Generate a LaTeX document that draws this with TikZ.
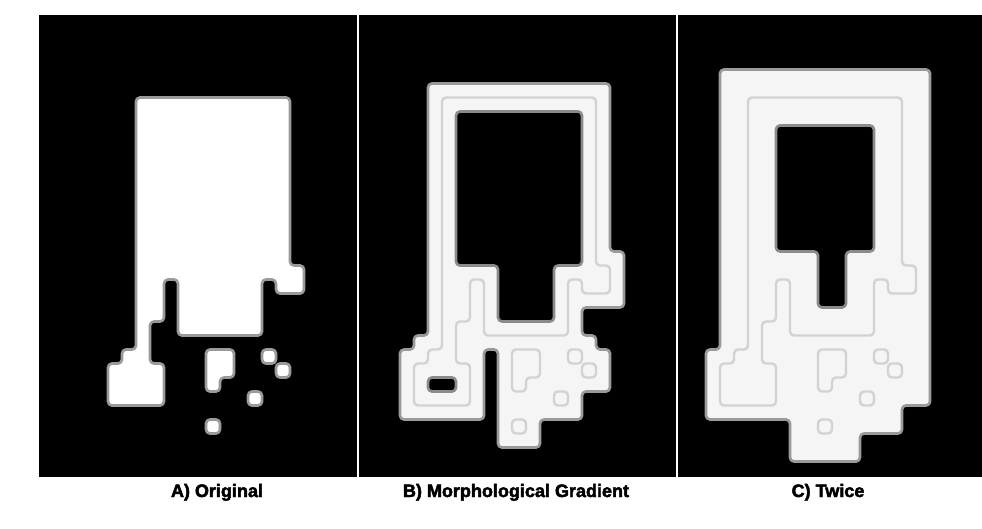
\documentclass[tikz,border=0pt]{standalone}
\usepackage{fontspec}
\newfontfamily\lblfont{Liberation Sans Bold}[FakeBold=2.6]
\definecolor{rim}{HTML}{9A9A9A}
\definecolor{trace}{HTML}{D2D2D2}
\definecolor{paper}{HTML}{F5F5F5}

% original shape on a grid of 14px cells
\newcommand\origbody{(2,0) -- (13,0) -- (13,12) -- (14,12) -- (14,14) -- (12,14) -- (12,13) -- (11,13) -- (11,17) -- (5,17) -- (5,13) -- (4,13) -- (4,16) -- (3,16) -- (3,19) -- (4,19) -- (4,22) -- (0,22) -- (0,19) -- (1,19) -- (1,18) -- (2,18) -- cycle}
\newcommand\origbits{(7,18) -- (9,18) -- (9,20) -- (8,20) -- (8,21) -- (7,21) -- cycle (11,18) rectangle (12,19) (12,19) rectangle (13,20) (10,21) rectangle (11,22) (7,23) rectangle (8,24)}

\begin{document}
\begin{tikzpicture}[x=1pt, y=-1pt, line join=round,
  panel/.style={fill=black},
  blob/.style={fill=#1, draw=rim, line width=2.7pt, rounded corners=4pt},
  blob/.default=white,
  hole/.style={fill=black, draw=rim!90!black, line width=2.7pt, rounded corners=4pt},
  trail/.style={draw=trace, line width=2.4pt, rounded corners=4pt},
  paneltitle/.style={font=\lblfont\fontsize{18}{20}\selectfont, anchor=base}]
  \useasboundingbox (0,0) rectangle (982,529);
  \fill[white] (0,0) rectangle (982,529);

  % three panels
  \fill[panel] (39,15) rectangle (357,477);
  \fill[panel] (359,15) rectangle (676,477);
  \fill[panel] (678,15) rectangle (982,477);

  % A) original
  \begin{scope}[shift={(108pt,-97.5pt)}, x=14pt, y=-14pt]
    \path[blob] \origbody;
    \path[blob] \origbits;
  \end{scope}

  % B) dilation minus erosion
  \begin{scope}[shift={(414pt,-97.5pt)}, x=14pt, y=-14pt]
    \path[blob=paper] (1,-1) -- (14,-1) -- (14,11) -- (15,11) -- (15,15) -- (12,15) -- (12,17) -- (13,17) -- (13,18) -- (14,18) -- (14,21) -- (12,21) -- (12,23) -- (9,23) -- (9,25) -- (6,25) -- (6,18) -- (5,18) -- (5,23) -- (-1,23) -- (-1,18) -- (0,18) -- (0,17) -- (1,17) -- cycle;
    \path[hole] (3,1) -- (12,1) -- (12,12) -- (10,12) -- (10,16) -- (6,16) -- (6,12) -- (3,12) -- cycle;
    \path[hole] (1,20) rectangle (3,21);
    \path[trail] \origbody;
    \path[trail] \origbits;
  \end{scope}

  % C) twice
  \begin{scope}[shift={(720pt,-97.5pt)}, x=14pt, y=-14pt]
    \path[blob=paper] (0,-2) -- (15,-2) -- (15,22) -- (13,22) -- (13,24) -- (10,24) -- (10,26) -- (5,26) -- (5,23) -- (-1,23) -- (-1,18) -- (0,18) -- cycle;
    \path[hole] (4,2) -- (11,2) -- (11,11) -- (9,11) -- (9,15) -- (7,15) -- (7,11) -- (4,11) -- cycle;
    \path[trail] \origbody;
    \path[trail] \origbits;
  \end{scope}

  \node[paneltitle] (capA) at (217,497) {A) Original};
  \node[paneltitle] (capB) at (516,497) {B) Morphological Gradient};
  \node[paneltitle] (capC) at (828,497) {C) Twice};
\end{tikzpicture}
\end{document}
